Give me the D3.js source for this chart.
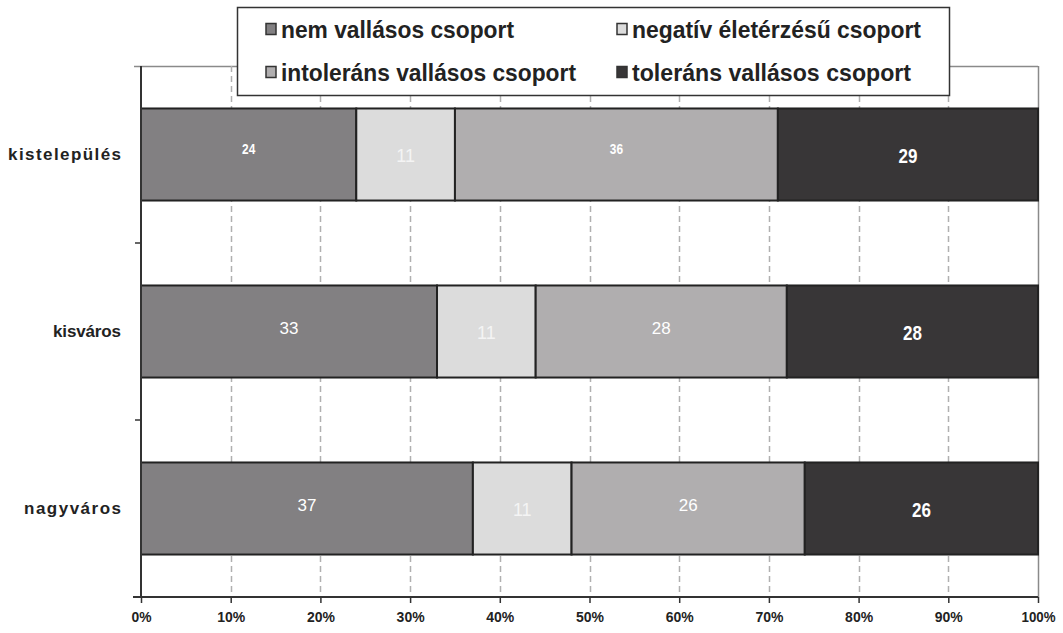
<!DOCTYPE html>
<html><head><meta charset="utf-8">
<script src="https://cdn.jsdelivr.net/npm/d3@7"></script>
<style>
body{margin:0;background:#fff;}
svg{display:block;}
</style></head>
<body><svg id="c" width="1063" height="633"></svg>
<script>
const categories = ["kistelepülés", "kisváros", "nagyváros"];
const seriesNames = ["nem vallásos csoport", "negatív életérzésű csoport", "intoleráns vallásos csoport", "toleráns vallásos csoport"];
const nemVallasos = [24, 33, 37];
const negativ = [11, 11, 11];
const intolerans = [36, 28, 26];
const tolerans = [29, 28, 26];
const seriesColors = ["#828082", "#dcdcdc", "#b0aeaf", "#383637"];
const tickValues = [0, 10, 20, 30, 40, 50, 60, 70, 80, 90, 100];

const seriesData = [nemVallasos, negativ, intolerans, tolerans];
const narrow = "'Liberation Sans Narrow','DejaVu Sans Condensed',Arial,sans-serif";
const svg = d3.select("#c");
const m = {l:141, r:1038, t:66, b:597};
const x = d3.scaleLinear().domain([0,100]).range([m.l, m.r]);
const y = d3.scaleBand().domain(categories).range([m.t, m.b]).paddingInner(0.48).paddingOuter(0.24);

// plot area border (top, right)
svg.append("line").attr("x1",134).attr("x2",m.r).attr("y1",m.t+0.5).attr("y2",m.t+0.5).attr("stroke","#8a8a8a").attr("stroke-width",1.5);
svg.append("line").attr("x1",m.r+0.5).attr("x2",m.r+0.5).attr("y1",m.t).attr("y2",m.b).attr("stroke","#8a8a8a").attr("stroke-width",1.5);

// grid
svg.append("g").selectAll("line").data(tickValues.filter(d=>d>0&&d<100)).join("line")
  .attr("x1",d=>Math.round(x(d))+0.5).attr("x2",d=>Math.round(x(d))+0.5)
  .attr("y1",m.t).attr("y2",m.b)
  .attr("stroke","#b0b0b0").attr("stroke-width",1.5).attr("stroke-dasharray","6,4");

// stacked data
const stacked = categories.map((c,i)=>{
  let acc=0;
  return seriesData.map((s,k)=>{const o={cat:c,k,v:s[i],x0:acc,x1:acc+s[i]}; acc+=s[i]; return o;});
}).flat();

svg.append("g").selectAll("rect").data(stacked).join("rect")
  .attr("x",d=>x(d.x0)).attr("width",d=>x(d.x1)-x(d.x0))
  .attr("y",d=>y(d.cat)).attr("height",y.bandwidth())
  .attr("fill",d=>seriesColors[d.k]).attr("stroke","#222").attr("stroke-width",2);

// labels
const lblStyle = (d)=>{
  if(d.k===3) return {size:20, weight:"bold", fill:"#fff", dy:1, sx:0.85};
  if(d.cat==="kistelepülés" && (d.k===0||d.k===2)) return {size:14, weight:"bold", fill:"#fff", dy:-5, sx:0.85};
  if(d.k===1) return {size:18, weight:"normal", fill:"#f4f4f4", dy:1, sx:1};
  return {size:17, weight:"normal", fill:"#fff", dy:-3, sx:1};
};
svg.append("g").selectAll("text").data(stacked).join("text")
  .attr("transform",d=>`translate(${(x(d.x0)+x(d.x1))/2},${y(d.cat)+y.bandwidth()/2+lblStyle(d).dy}) scale(${lblStyle(d).sx},1)`)
  .attr("text-anchor","middle").attr("dominant-baseline","central")
  .attr("font-family","'Liberation Sans',Arial,sans-serif").attr("font-size",d=>lblStyle(d).size)
  .attr("font-weight",d=>lblStyle(d).weight).attr("fill",d=>lblStyle(d).fill)
  .text(d=>d.v);

// x axis
const xAxis = svg.append("g").attr("transform",`translate(0,${m.b})`)
  .call(d3.axisBottom(x).tickValues(tickValues).tickFormat(d=>d+"%").tickSize(6).tickPadding(8));
xAxis.select(".domain").attr("stroke","#333").attr("stroke-width",2).attr("d",`M${m.l-8},0H${m.r}`);
xAxis.selectAll(".tick line").attr("stroke","#333").attr("stroke-width",1.5);
xAxis.selectAll("text").attr("font-family","'Liberation Sans',Arial,sans-serif").attr("font-weight","bold").attr("font-size",15).attr("fill","#222")
  .attr("textLength",function(d){return d===100?34:(d===0?20:28);}).attr("lengthAdjust","spacingAndGlyphs");

// y axis
const catWidths = [113, 68, 97];
const yAxis = svg.append("g").attr("transform",`translate(${m.l},0)`)
  .call(d3.axisLeft(y).tickSize(0).tickPadding(20));
yAxis.select(".domain").attr("stroke","#333").attr("stroke-width",2).attr("d",`M0,${m.t}V${m.b}`);
yAxis.selectAll("text").attr("font-family","'Liberation Sans',Arial,sans-serif").attr("font-weight","bold").attr("font-size",17).attr("fill","#222")
  .attr("textLength",(d,i)=>catWidths[i]).attr("lengthAdjust","spacing");
// category boundary ticks
const bounds = categories.slice(1).map(c=>y(c)-(y.step()-y.bandwidth())/2);
svg.append("g").selectAll("line").data(bounds).join("line")
  .attr("x1",m.l-6).attr("x2",m.l).attr("y1",d=>d).attr("y2",d=>d).attr("stroke","#333").attr("stroke-width",1.5);

// legend
const lg = svg.append("g");
lg.append("rect").attr("x",237.5).attr("y",7.5).attr("width",712).attr("height",88).attr("fill","#fff").attr("stroke","#333").attr("stroke-width",1.5);
const legPos = [[266,29],[617,29],[266,72],[617,72]];
const legWidths = [233, 289, 295, 279];
legPos.forEach(([lx,ly],k)=>{
  lg.append("rect").attr("x",lx).attr("y",ly-5.5).attr("width",10).attr("height",11)
    .attr("fill",seriesColors[k]).attr("stroke","#333").attr("stroke-width",1.5);
  lg.append("text").attr("x",lx+15).attr("y",ly).attr("dominant-baseline","central")
    .attr("font-family","'Liberation Sans',Arial,sans-serif").attr("font-weight","bold").attr("font-size",24).attr("fill","#222")
    .attr("textLength",legWidths[k]).attr("lengthAdjust","spacingAndGlyphs")
    .text(seriesNames[k]);
});
</script></body></html>
